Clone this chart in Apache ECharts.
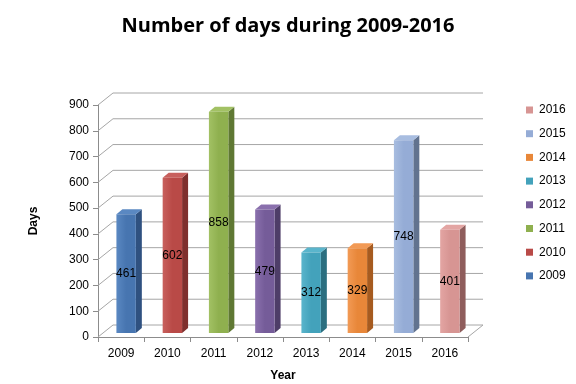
<!DOCTYPE html>
<html>
<head>
<meta charset="utf-8">
<script src="https://cdn.jsdelivr.net/npm/echarts@6/dist/echarts.min.js"></script>
<style>html,body{margin:0;padding:0;background:#fff;}#c{width:576px;height:384px;}</style>
</head>
<body>
<div id="c"></div>
<script>
var categories = ['2009','2010','2011','2012','2013','2014','2015','2016'];
var values = [461, 602, 858, 479, 312, 329, 748, 401];
var colors = ['#4775B0','#B94A47','#8FB04F','#755C99','#43A2BB','#E88739','#95ACD6','#D79593'];
var sides = ['#2F5180','#7F2F2D','#5F7833','#4E3D68','#2B6F80','#A65B20','#62738F','#8F5D5C'];
var tops = ['#5A88C2','#C8605D','#A2C164','#8A70AD','#5AB5CC','#F29A55','#A8BDE0','#E3A5A3'];
var yTicks = [0,100,200,300,400,500,600,700,800,900];

var FONT = 'Liberation Sans';
var DX = 15, DY = -12;       // back wall offset
var SX = 5, SY = -4;         // bar offset into depth
var BDX = 6, BDY = -5;       // bar depth faces

function barRender(params, api) {
  var idx = api.value(0), v = api.value(1);
  var base = api.coord([idx, 0]);
  var top = api.coord([idx, v]);
  var w = api.size([1, 0])[0] * 0.42;
  var x1 = base[0] + SX - w / 2, x2 = base[0] + SX + w / 2;
  var yb = base[1] + SY, yt = top[1] + SY;
  var s = params.seriesIndex - 1;
  return {
    type: 'group',
    children: [
      {type:'polygon', shape:{points:[[x2,yt],[x2+BDX,yt+BDY],[x2+BDX,yb+BDY],[x2,yb]]}, style:{fill:sides[s]}},
      {type:'polygon', shape:{points:[[x1,yt],[x1+BDX,yt+BDY],[x2+BDX,yt+BDY],[x2,yt]]}, style:{fill:tops[s]}},
      {type:'rect', shape:{x:x1, y:yt, width:w, height:yb-yt}, style:{fill:{type:'linear',x:0,y:0,x2:1,y2:0,colorStops:[{offset:0,color:tops[s]},{offset:0.5,color:colors[s]},{offset:1,color:colors[s]}]}}},
      {type:'text', x:(x1+x2)/2, y:(yt+yb)/2, style:{text:String(v), fill:'#000', font:'12px ' + FONT, align:'center', verticalAlign:'middle'}}
    ]
  };
}

function wallRender(params, api) {
  var v = api.value(0);
  var cs = params.coordSys;
  var p = api.coord([0, v]);
  var y = p[1];
  var left = cs.x, right = cs.x + cs.width;
  var children = [
    {type:'line', shape:{x1:left, y1:y, x2:left+DX, y2:y+DY}, style:{stroke:'#A6A6A6', lineWidth:1}},
    {type:'line', shape:{x1:left+DX, y1:y+DY, x2:right+DX, y2:y+DY}, style:{stroke:'#A6A6A6', lineWidth:1}}
  ];
  if (v === 0) {
    children.push({type:'line', shape:{x1:right, y1:y, x2:right+DX, y2:y+DY}, style:{stroke:'#A6A6A6', lineWidth:1}});
  }
  return {type:'group', children: children};
}

var series = [{
  name: 'wall', type: 'custom', renderItem: wallRender, silent: true, z: 1,
  data: yTicks.map(function (t) { return [t]; }),
  encode: { y: 0 }
}];
categories.forEach(function (c, i) {
  series.push({
    name: c, type: 'custom', renderItem: barRender, z: 2,
    itemStyle: { color: colors[i] },
    data: [[i, values[i]]],
    encode: { x: 0, y: 1 }
  });
});

var chart = echarts.init(document.getElementById('c'));
chart.setOption({
  animation: false,
  backgroundColor: '#fff',
  title: {
    text: 'Number of days during 2009-2016', left: 'center', top: 11,
    textStyle: { fontFamily: 'Open Sans', fontWeight: 'bold', fontSize: 20, color: '#000' }
  },
  legend: {
    orient: 'vertical', left: 521, top: 99, itemWidth: 7, itemHeight: 7, itemGap: 11.7,
    icon: 'rect',
    data: categories.slice().reverse(),
    textStyle: { fontFamily: FONT, fontSize: 12, color: '#000', padding: [0, 0, 0, 1] }
  },
  grid: { left: 98, right: 108, top: 105, bottom: 47, outerBoundsMode: 'none', containLabel: false },
  xAxis: {
    type: 'category', data: categories, boundaryGap: true,
    name: 'Year', nameLocation: 'middle', nameGap: 33,
    nameTextStyle: { fontFamily: FONT, fontWeight: 'bold', fontSize: 12, color: '#000' },
    axisLine: { lineStyle: { color: '#8C8C8C' } },
    axisTick: { show: true, length: 5, lineStyle: { color: '#8C8C8C' } },
    axisLabel: { fontFamily: FONT, fontSize: 12, color: '#000', margin: 11 },
    splitLine: { show: false }
  },
  yAxis: {
    type: 'value', min: 0, max: 900, interval: 100,
    name: 'Days', nameLocation: 'middle', nameGap: 58, nameRotate: 90,
    nameTextStyle: { fontFamily: FONT, fontWeight: 'bold', fontSize: 12, color: '#000' },
    axisLine: { show: true, lineStyle: { color: '#8C8C8C' } },
    axisTick: { show: true, length: 5, lineStyle: { color: '#8C8C8C' } },
    axisLabel: { fontFamily: FONT, fontSize: 12, color: '#000', margin: 9 },
    splitLine: { show: false }
  },
  series: series
});
</script>
</body>
</html>
